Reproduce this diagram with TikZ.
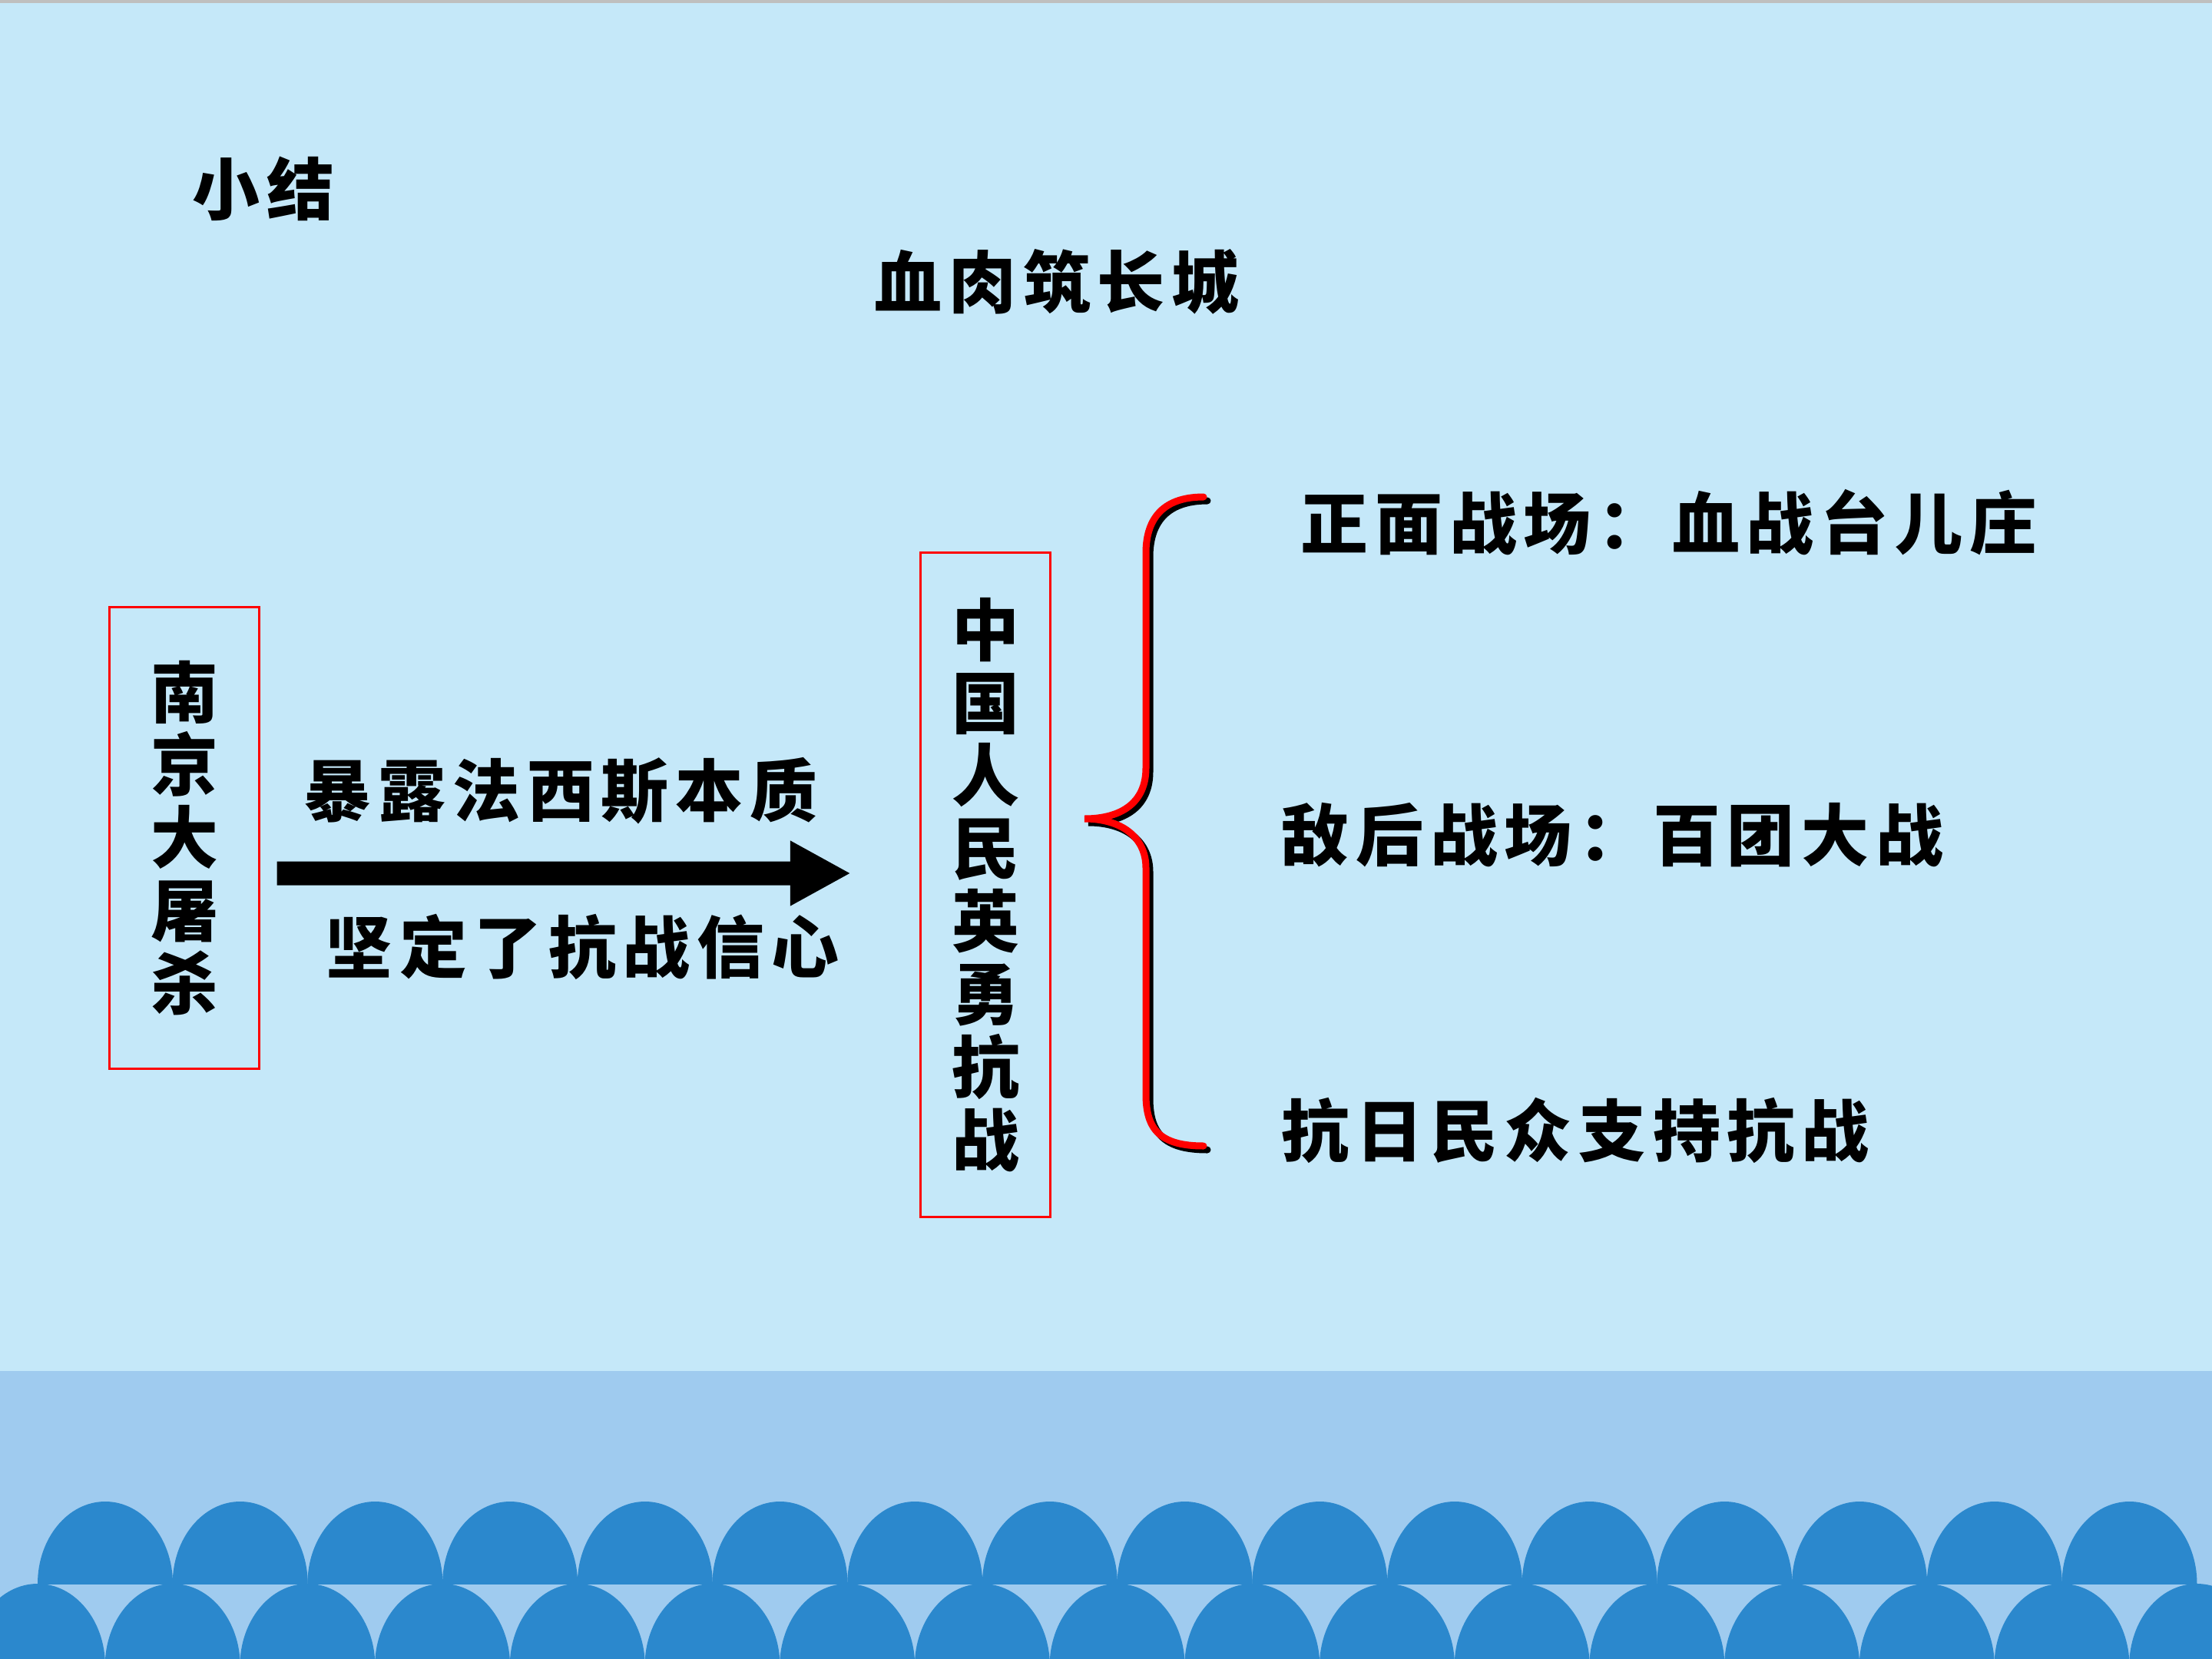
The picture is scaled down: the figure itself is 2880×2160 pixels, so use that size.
\documentclass[tikz,border=0pt]{standalone}
\usepackage{fontspec}
\newfontfamily\cjk{Noto Sans CJK SC}[LetterSpace=10]
\usetikzlibrary{arrows.meta,positioning}
\definecolor{slidebg}{RGB}{197,232,249}
\definecolor{seaband}{RGB}{159,203,239}
\definecolor{wave}{RGB}{43,136,205}

\begin{document}
\begin{tikzpicture}[x=0.01cm, y=-0.01cm, font=\cjk\bfseries\fontsize{25}{27}\selectfont]
\tikzset{
    mybox/.style={rectangle, draw=red, line width=0.03cm, inner sep=0pt, align=center},
    myarrow/.style={-{Triangle[length=0.79cm, width=0.79cm]}, line width=0.31cm, shorten <=0.22cm, shorten >=0.89cm},
    mylabel/.style={inner sep=0pt},
    mybrace/.style={line width=0.09cm, line cap=round}
}
% slide background
\fill[slidebg] (0,0) rectangle (2880,2160);
\useasboundingbox (0,0) rectangle (2880,2160);
\fill[black!25] (0,0) rectangle (2880,4);
\fill[seaband] (0,1785) rectangle (2880,2160);
% two rows of waves at the bottom
\begin{scope}
  \clip (0,1785) rectangle (2880,2062);
  \foreach \i in {0,...,15}
    \fill[wave] (137+175.7*\i,2062) ellipse [x radius=88, y radius=107];
\end{scope}
\begin{scope}
  \clip (0,2062) rectangle (2880,2160);
  \foreach \i in {0,...,16}
    \fill[wave] (49+175.7*\i,2169) ellipse [x radius=88, y radius=107];
\end{scope}

\node[mylabel] (xiaojie) at (343,246) {小结};
\node[mylabel] (title) at (1376,367) {血肉筑长城};
\node[mybox, minimum width=1.94cm, minimum height=6.01cm] (nanjing) at (240,1091) {南\\京\\大\\屠\\杀};
\node[mybox, minimum width=1.69cm, minimum height=8.64cm] (zhongguo) at (1283,1152) {中\\国\\人\\民\\英\\勇\\抗\\战};
\node[mylabel] (expose) at (730,1030) {暴露法西斯本质};
\node[mylabel] (resolve) at (758,1233) {坚定了抗战信心};

\draw[myarrow] ([yshift=-0.46cm]nanjing.east) -- ([yshift=0.15cm]zhongguo.west);

% the brace: black shadow first, red on top
\foreach \dx/\col in {5/black,0/red}
  \draw[mybrace, \col, shift={(\dx,\dx)}] (1567,647) .. controls (1510,647) and (1492,680) .. (1492,720)
    -- (1492,1000) .. controls (1492,1045) and (1460,1066) .. (1412,1066)
    .. controls (1460,1066) and (1492,1090) .. (1492,1130)
    -- (1492,1425) .. controls (1492,1470) and (1510,1492) .. (1567,1492);

\node[mylabel, anchor=west] (front) at (1693,680) {正面战场：血战台儿庄};
\node[mylabel, anchor=west] (rear) at (1668,1087) {敌后战场：百团大战};
\node[mylabel, anchor=west] (people) at (1668,1472) {抗日民众支持抗战};
\end{tikzpicture}
\end{document}
